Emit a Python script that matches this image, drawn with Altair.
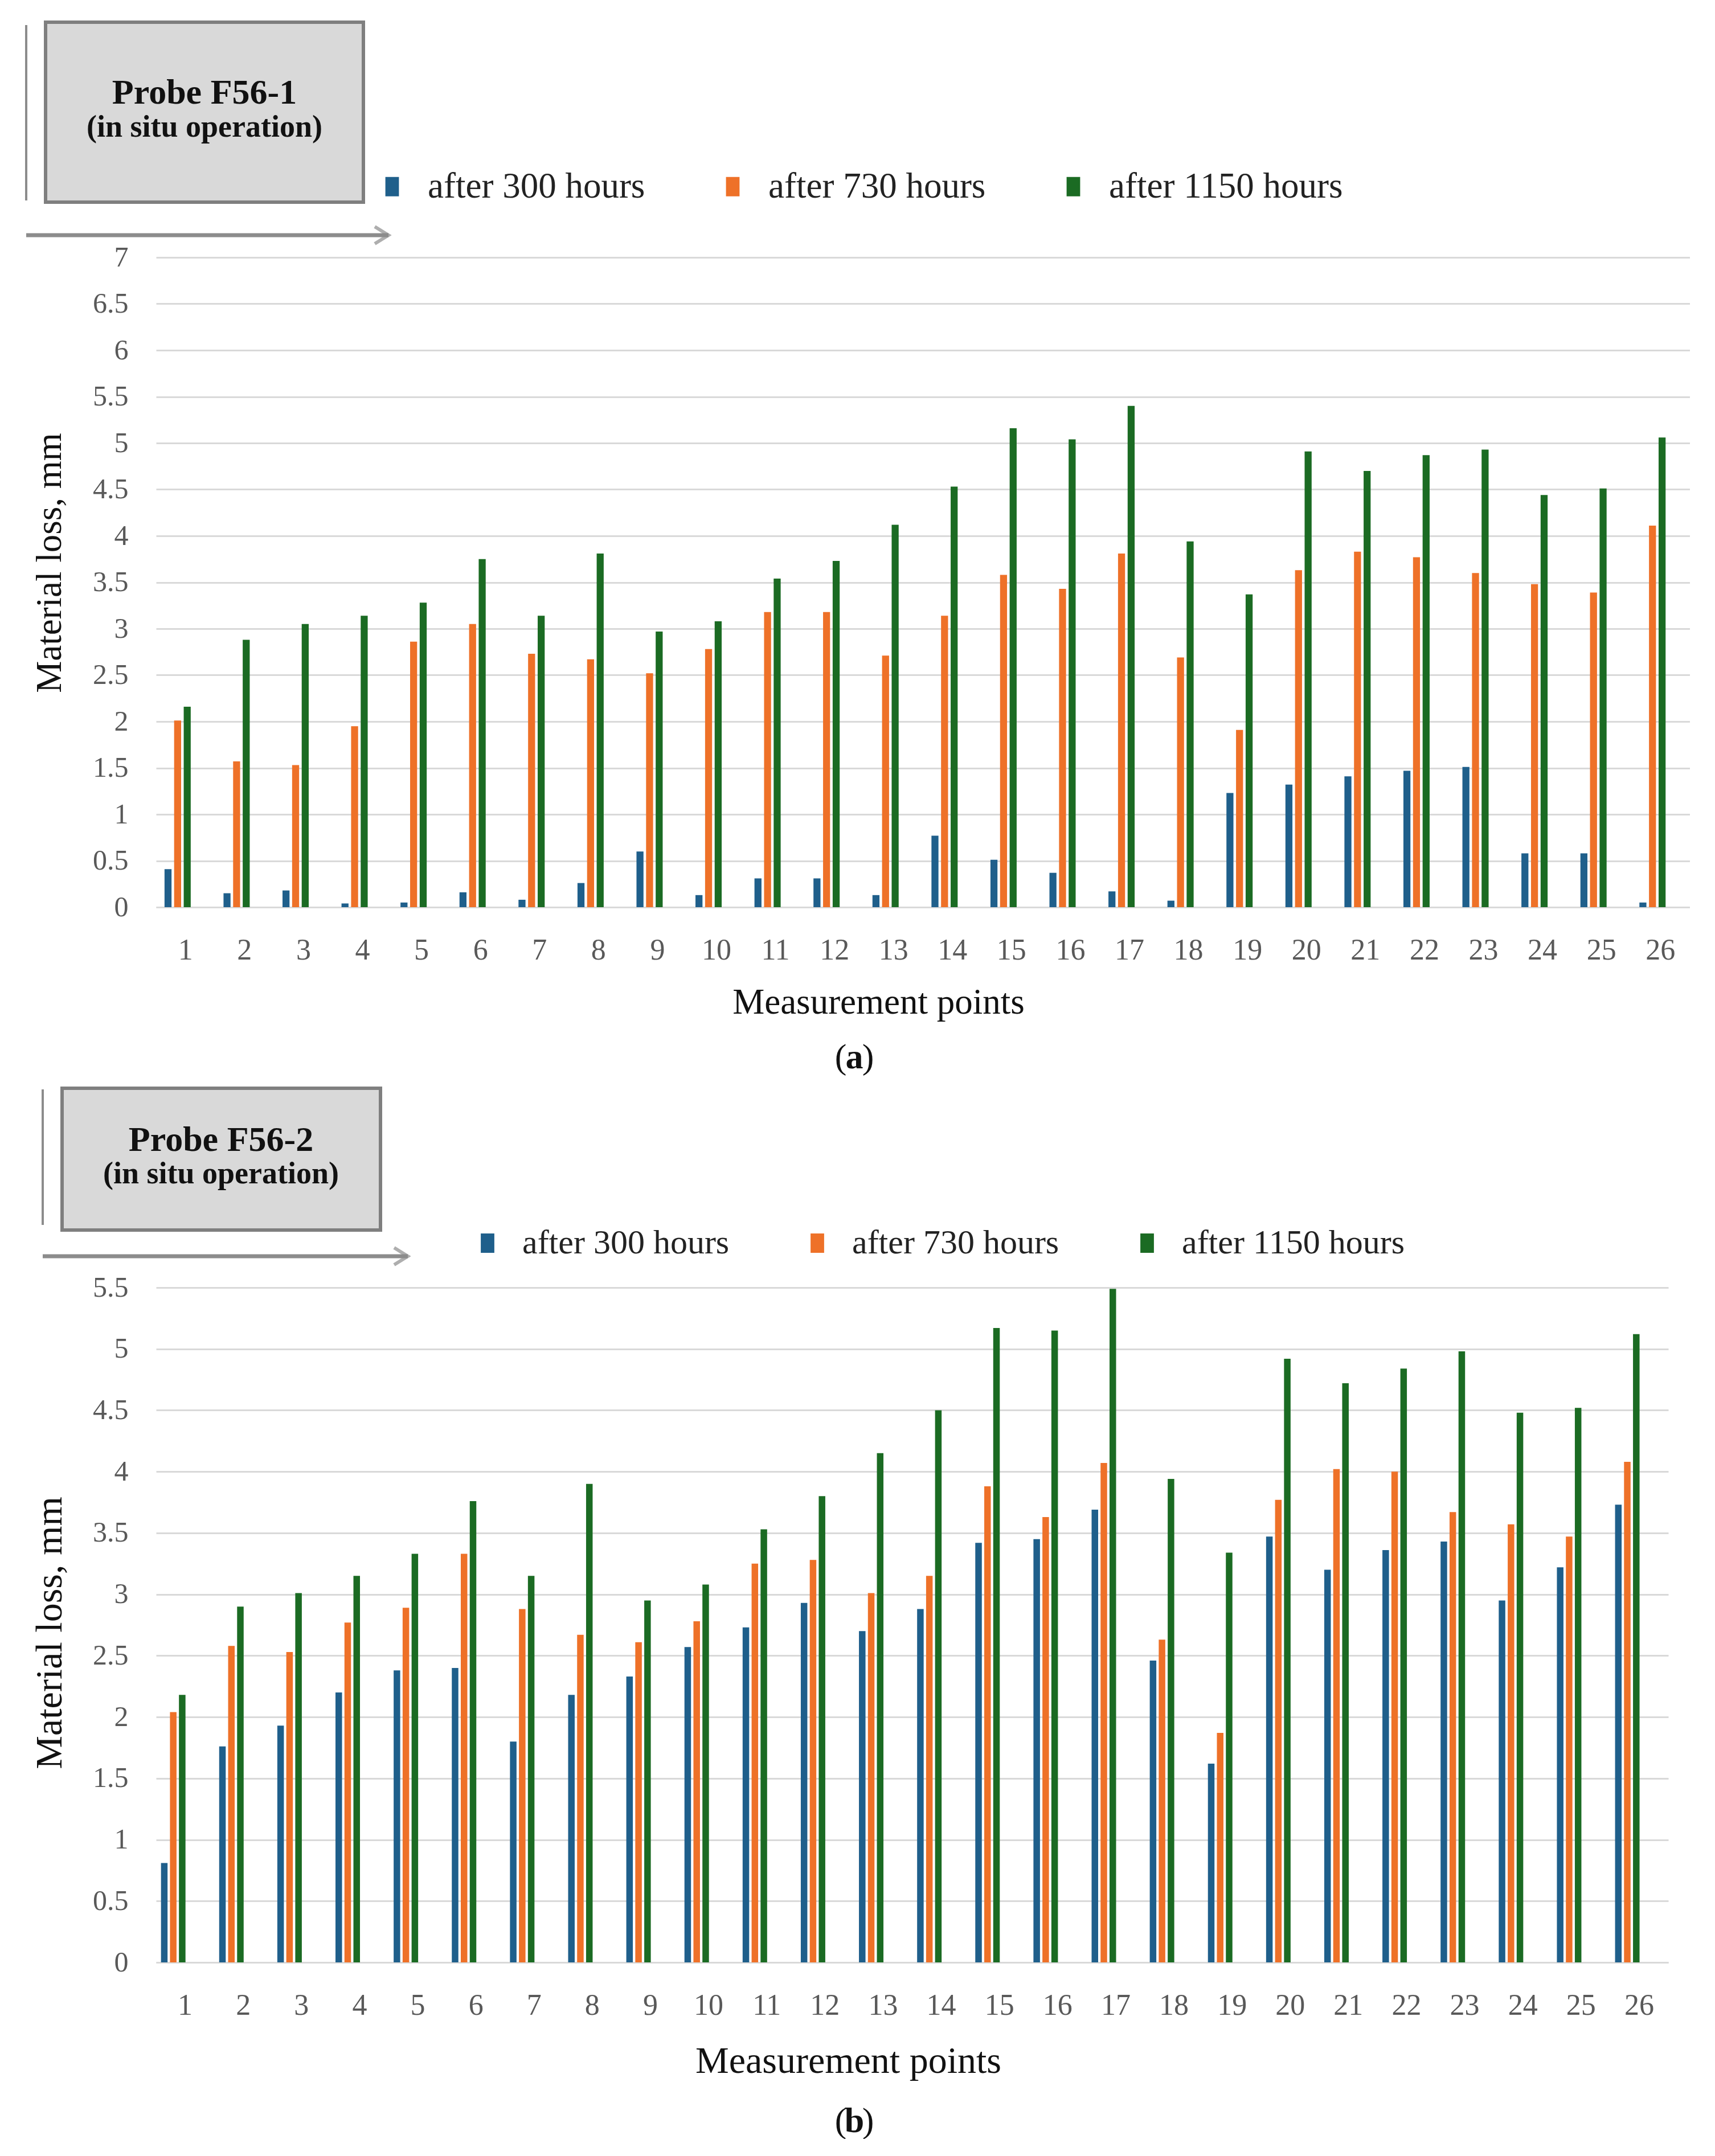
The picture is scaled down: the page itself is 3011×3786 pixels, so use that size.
import altair as alt
import pandas as pd

SERIF = "Liberation Serif"

points = list(range(1, 27))
series = ["after 300 hours", "after 730 hours", "after 1150 hours"]
colors = ["#1F5F8B", "#EE7128", "#1B6B23"]

# Probe F56-1
f1_300 = [0.41, 0.15, 0.18, 0.04, 0.05, 0.16, 0.08, 0.26, 0.60, 0.13, 0.31, 0.31, 0.13,
          0.77, 0.51, 0.37, 0.17, 0.07, 1.23, 1.32, 1.41, 1.47, 1.51, 0.58, 0.58, 0.05]
f1_730 = [2.01, 1.57, 1.53, 1.95, 2.86, 3.05, 2.73, 2.67, 2.52, 2.78, 3.18, 3.18, 2.71,
          3.14, 3.58, 3.43, 3.81, 2.69, 1.91, 3.63, 3.83, 3.77, 3.60, 3.48, 3.39, 4.11]
f1_1150 = [2.16, 2.88, 3.05, 3.14, 3.28, 3.75, 3.14, 3.81, 2.97, 3.08, 3.54, 3.73, 4.12,
           4.53, 5.16, 5.04, 5.40, 3.94, 3.37, 4.91, 4.70, 4.87, 4.93, 4.44, 4.51, 5.06]

# Probe F56-2
f2_300 = [0.81, 1.76, 1.93, 2.20, 2.38, 2.40, 1.80, 2.18, 2.33, 2.57, 2.73, 2.93, 2.70,
          2.88, 3.42, 3.45, 3.69, 2.46, 1.62, 3.47, 3.20, 3.36, 3.43, 2.95, 3.22, 3.73]
f2_730 = [2.04, 2.58, 2.53, 2.77, 2.89, 3.33, 2.88, 2.67, 2.61, 2.78, 3.25, 3.28, 3.01,
          3.15, 3.88, 3.63, 4.07, 2.63, 1.87, 3.77, 4.02, 4.00, 3.67, 3.57, 3.47, 4.08]
f2_1150 = [2.18, 2.90, 3.01, 3.15, 3.33, 3.76, 3.15, 3.90, 2.95, 3.08, 3.53, 3.80, 4.15,
           4.50, 5.17, 5.15, 5.49, 3.94, 3.34, 4.92, 4.72, 4.84, 4.98, 4.48, 4.52, 5.12]

yticks_a = [0, 0.5, 1, 1.5, 2, 2.5, 3, 3.5, 4, 4.5, 5, 5.5, 6, 6.5, 7]
yticks_b = [0, 0.5, 1, 1.5, 2, 2.5, 3, 3.5, 4, 4.5, 5, 5.5]


def long_table(a, b, c):
    rows = []
    for name, vals in zip(series, [a, b, c]):
        for p, v in zip(points, vals):
            rows.append({"point": p, "series": name, "value": v})
    return pd.DataFrame(rows)


def panel(df, probe, letter, yticks, L):
    """One probe: grouped bars plus the grey label box, arrow and caption."""
    W, H = L["width"], L["height"]

    bars = alt.Chart(df).mark_bar().encode(
        x=alt.X("point:O",
                scale=alt.Scale(paddingInner=L["pin"], paddingOuter=L["pin"] / 2),
                axis=alt.Axis(labelAngle=0, labelFont=SERIF,
                              labelFontSize=L["xlab"], labelColor="#595959",
                              labelPadding=50, ticks=False, tickSize=0,
                              domainColor="#d9d9d9", domainWidth=3, grid=False,
                              title="Measurement points", titleFont=SERIF,
                              titleFontSize=L["title"], titleFontWeight="normal",
                              titleColor="#111111", titleX=L["xtx"], titleY=L["xty"],
                              titleBaseline="middle", titleAlign="center")),
        # Excel draws each group a little left of its category label
        xOffset=alt.XOffset("series:N", sort=series,
                            scale=alt.Scale(range=L["offrange"], paddingInner=0.27,
                                            paddingOuter=0)),
        y=alt.Y("value:Q",
                scale=alt.Scale(domain=[0, yticks[-1]], nice=False),
                axis=alt.Axis(values=yticks, format="~g", labelFont=SERIF,
                              labelFontSize=50, labelColor="#595959",
                              labelPadding=49, ticks=False, tickSize=0,
                              domain=False, grid=True, gridColor="#d9d9d9",
                              gridWidth=3, title="Material loss, mm",
                              titleFont=SERIF, titleFontSize=L["title"],
                              titleFontWeight="normal", titleColor="#111111",
                              titleAngle=-90, titleX=-187, titleY=L["yty"],
                              titleBaseline="middle", titleAlign="center")),
        color=alt.Color("series:N", sort=series,
                        scale=alt.Scale(domain=series, range=colors),
                        legend=alt.Legend(title=None, orient="none",
                                          legendX=L["lx"], legendY=L["ly"],
                                          direction="horizontal",
                                          symbolType="M-0.7,-1H0.7V1H-0.7Z",
                                          symbolSize=1156, symbolStrokeWidth=0,
                                          labelFont=SERIF, labelFontSize=L["leg"],
                                          labelColor="#222222", labelOffset=31,
                                          labelLimit=800,
                                          columnPadding=L["colpad"])),
    )

    one = alt.Chart(pd.DataFrame({"k": [0]}))
    grey = "#8c8c8c"
    vline = one.mark_rule(color=grey, strokeWidth=4).encode(
        x=alt.value(L["vx"]), y=alt.value(L["vy1"]), y2=alt.value(L["vy2"]))
    box = one.mark_rect(fill="#d9d9d9", stroke="#7f7f7f", strokeWidth=6).encode(
        x=alt.value(L["bx1"]), x2=alt.value(L["bx2"]),
        y=alt.value(L["by1"]), y2=alt.value(L["by2"]))
    name = one.mark_text(font=SERIF, fontSize=62, fontWeight="bold",
                         color="#111111", baseline="middle").encode(
        x=alt.value(L["tx"]), y=alt.value(L["ty1"]), text=alt.value(probe))
    sub = one.mark_text(font=SERIF, fontSize=54, fontWeight="bold",
                        color="#111111", baseline="middle").encode(
        x=alt.value(L["tx"]), y=alt.value(L["ty2"]), text=alt.value("(in situ operation)"))
    arrow = one.mark_rule(color=grey, strokeWidth=7).encode(
        x=alt.value(L["vx"]), x2=alt.value(L["ax"]), y=alt.value(L["ay"]))
    head = one.mark_point(shape="M-1.6,-1L0,0L-1.6,1", filled=False, color=grey,
                          strokeWidth=6, size=900).encode(
        x=alt.value(L["ax"]), y=alt.value(L["ay"]))

    cap = []
    for txt, dx, wt in [("(", -24, "normal"), (letter, 0, "bold"), (")", 24, "normal")]:
        cap.append(one.mark_text(font=SERIF, fontSize=62, fontWeight=wt,
                                 color="#111111", baseline="middle").encode(
            x=alt.value(1226 + dx), y=alt.value(L["capy"]), text=alt.value(txt)))

    return alt.layer(bars, vline, box, name, sub, arrow, head, *cap).properties(
        width=W, height=H)


lay_a = dict(width=2693, height=1141, pin=0.557, xlab=52, title=63, offrange=[-14, 32],
             xtx=1268, xty=167, yty=536, lx=383, ly=-156, leg=63, colpad=122,
             vx=-228, vy1=-408, vy2=-100, bx1=-194, bx2=364, by1=-413, by2=-97,
             tx=85, ty1=-289, ty2=-228, ax=408, ay=-39, capy=1141 + 264)
lay_b = dict(width=2655, height=1185, pin=0.581, xlab=52, title=66, offrange=[-21, 22],
             xtx=1215, xty=173, yty=606, lx=552, ly=-108, leg=60, colpad=124,
             vx=-199, vy1=-348, vy2=-110, bx1=-165, bx2=394, by1=-350, by2=-101,
             tx=114, ty1=-259, ty2=-199, ax=442, ay=-55, capy=1185 + 279)

top = panel(long_table(f1_300, f1_730, f1_1150), "Probe F56-1", "a", yticks_a, lay_a)
bottom = panel(long_table(f2_300, f2_730, f2_1150), "Probe F56-2", "b", yticks_b, lay_b)

chart = alt.vconcat(top, bottom, spacing=20).resolve_scale(
    x="independent", y="independent", xOffset="independent", color="independent"
).resolve_legend(color="independent").properties(
    padding={"left": 34, "top": 28, "right": 0, "bottom": 0}
).configure_view(strokeWidth=0)

chart.save("out.html", embed_options={"renderer": "svg", "actions": False})
